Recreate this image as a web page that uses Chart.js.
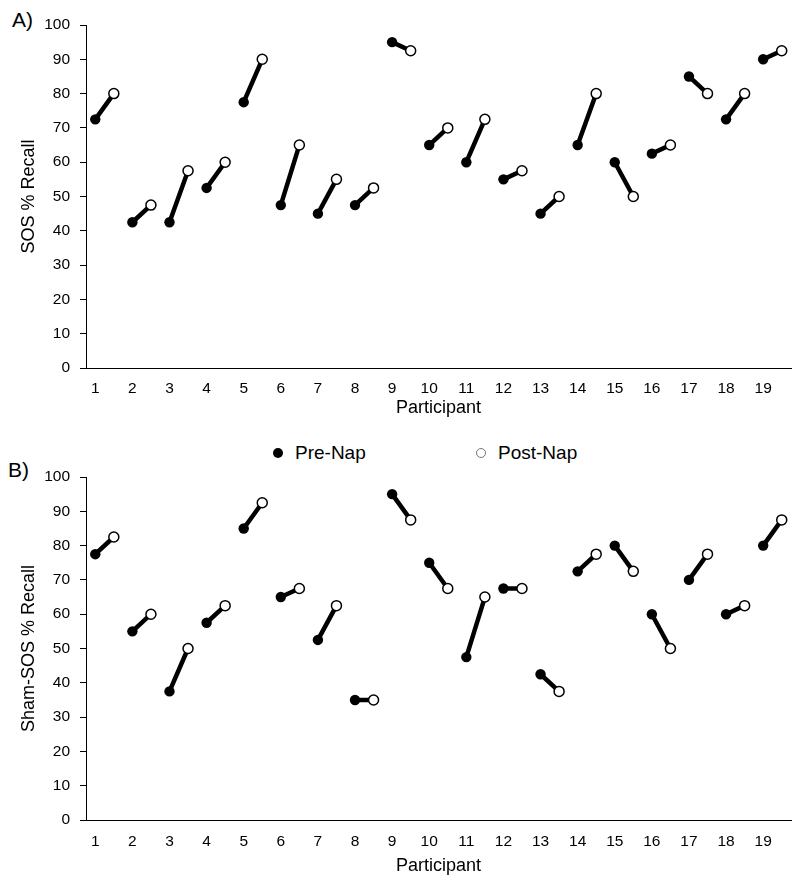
<!DOCTYPE html>
<html>
<head>
<meta charset="utf-8">
<script src="https://cdn.jsdelivr.net/npm/chart.js@4/dist/chart.umd.min.js"></script>
<style>
  body { margin: 0; background: #fff; font-family: "Liberation Sans", Arial, sans-serif; color: #000; }
  #wrap { position: relative; width: 800px; height: 887px; overflow: hidden; }
  canvas { position: absolute; left: 0; }
  .tag { position: absolute; font-size: 21px; line-height: 1; }
  .key { position: absolute; font-size: 19px; line-height: 1; display: flex; align-items: center; }
  .dot { display: inline-block; border-radius: 50%; box-sizing: border-box; margin-right: 12px; }
</style>
</head>
<body>
<div id="wrap">
  <div class="tag" style="left:12px; top:9px;">A)</div>
  <canvas id="chartA" width="800" height="420" style="top:0;"></canvas>

  <div class="key" style="left:273px; top:443px;">
    <span class="dot" style="width:10px; height:10px; background:#000;"></span>Pre-Nap
  </div>
  <div class="key" style="left:476px; top:443px;">
    <span class="dot" style="width:10px; height:10px; background:#fff; border:1.5px solid #777;"></span>Post-Nap
  </div>

  <div class="tag" style="left:8px; top:459px;">B)</div>
  <canvas id="chartB" width="800" height="457" style="top:430px;"></canvas>
</div>

<script>
// participants on the x axis
const participants = [1, 2, 3, 4, 5, 6, 7, 8, 9, 10, 11, 12, 13, 14, 15, 16, 17, 18, 19];

// A) SOS % recall
const sosPre  = [72.5, 42.5, 42.5, 52.5, 77.5, 47.5, 45, 47.5, 95, 65, 60, 55, 45, 65, 60, 62.5, 85, 72.5, 90];
const sosPost = [80, 47.5, 57.5, 60, 90, 65, 55, 52.5, 92.5, 70, 72.5, 57.5, 50, 80, 50, 65, 80, 80, 92.5];

// B) Sham-SOS % recall
const shamPre  = [77.5, 55, 37.5, 57.5, 85, 65, 52.5, 35, 95, 75, 47.5, 67.5, 42.5, 72.5, 80, 60, 70, 60, 80];
const shamPost = [82.5, 60, 50, 62.5, 92.5, 67.5, 62.5, 35, 87.5, 67.5, 65, 67.5, 37.5, 77.5, 72.5, 50, 77.5, 62.5, 87.5];

const POST_SHIFT = 0.5; // post-nap point sits half a step right of pre-nap

const font = { family: '"Liberation Sans", Arial, sans-serif' };

function makeChart(id, pre, post, yTitle, opts) {
  const prePts = participants.map((p, i) => ({ x: p, y: pre[i] }));
  const postPts = participants.map((p, i) => ({ x: p + POST_SHIFT, y: post[i] }));
  // pairs joined by a line, broken by a null between participants
  const links = participants.flatMap((p, i) => [
    { x: p, y: pre[i] },
    { x: p + POST_SHIFT, y: post[i] },
    { x: p + 0.75, y: null }
  ]);

  return new Chart(document.getElementById(id), {
    type: 'line',
    data: {
      datasets: [
        {
          label: 'Post-Nap',
          data: postPts,
          showLine: false,
          pointRadius: 5,
          pointBackgroundColor: '#fff',
          pointBorderColor: '#000',
          pointBorderWidth: 1.5
        },
        {
          label: 'Pre-Nap',
          data: prePts,
          showLine: false,
          pointRadius: 5.2,
          pointBackgroundColor: '#000',
          pointBorderColor: '#000',
          pointBorderWidth: 0
        },
        {
          label: 'link',
          data: links,
          borderColor: '#000',
          borderWidth: 4.5,
          pointRadius: 0,
          spanGaps: false,
          borderCapStyle: 'butt'
        }
      ]
    },
    options: {
      responsive: false,
      animation: false,
      events: [],
      layout: { padding: opts.padding },
      plugins: { legend: { display: false }, tooltip: { enabled: false } },
      scales: {
        x: {
          type: 'linear',
          min: 0.75,
          max: 19.75,
          afterBuildTicks: s => { s.ticks = participants.map(v => ({ value: v })); },
          afterFit: s => { s.height = opts.xHeight; },
          grid: { display: false, drawTicks: false },
          border: { display: true, color: '#000', width: 1 },
          ticks: { color: '#000', padding: opts.tickPad, font: { ...font, size: 15.5 }, autoSkip: false, maxRotation: 0 },
          title: { display: true, text: 'Participant', color: '#000', font: { ...font, size: 18 }, padding: { top: 0, bottom: 1 } }
        },
        y: {
          min: 0,
          max: 100,
          afterFit: s => { s.width = 86; },
          grid: { drawOnChartArea: false, drawTicks: true, tickLength: 6, color: '#000' },
          border: { display: true, color: '#000', width: 1 },
          ticks: { stepSize: 10, color: '#000', padding: 10, font: { ...font, size: 15.5 } },
          title: { display: true, text: yTitle, color: '#000', font: { ...font, size: 18 }, padding: { top: 18, bottom: 0 } }
        }
      }
    }
  });
}

makeChart('chartA', sosPre, sosPost, 'SOS % Recall',
  { padding: { top: 25, right: 9, bottom: 0, left: 0 }, xHeight: 52, tickPad: 11 });
makeChart('chartB', shamPre, shamPost, 'Sham-SOS % Recall',
  { padding: { top: 47, right: 9, bottom: 9, left: 0 }, xHeight: 58, tickPad: 12 });
</script>
</body>
</html>
